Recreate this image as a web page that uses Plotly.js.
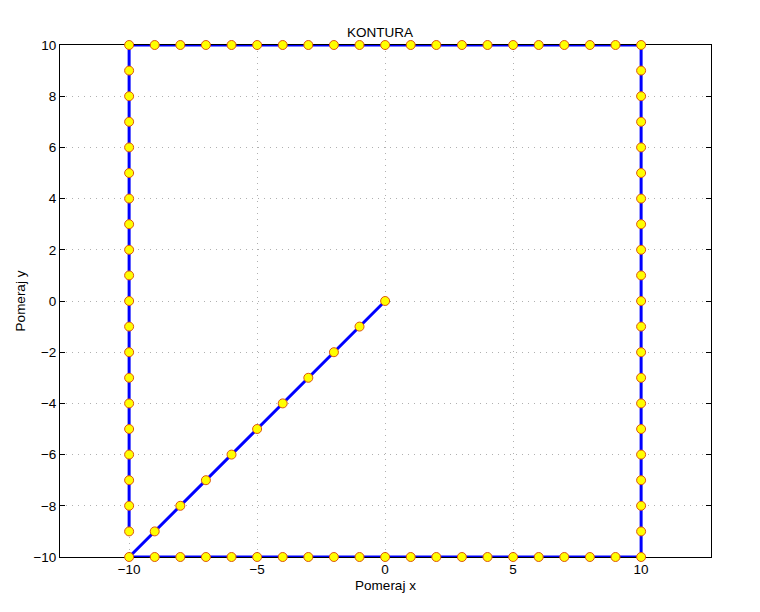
<!DOCTYPE html>
<html>
<head>
<meta charset="utf-8">
<script src="https://cdn.plot.ly/plotly-3.0.1.min.js"></script>
<style>body{margin:0;padding:0;background:#fff;} #chart{width:760px;height:612px;}</style>
</head>
<body>
<div id="chart"></div>
<script>
// Path segments
const diagX = [0, -1, -2, -3, -4, -5, -6, -7, -8, -9, -10];
const diagY = [0, -1, -2, -3, -4, -5, -6, -7, -8, -9, -10];
const bottomX = [-9, -8, -7, -6, -5, -4, -3, -2, -1, 0, 1, 2, 3, 4, 5, 6, 7, 8, 9, 10];
const bottomY = [-10, -10, -10, -10, -10, -10, -10, -10, -10, -10, -10, -10, -10, -10, -10, -10, -10, -10, -10, -10];
const rightX = [10, 10, 10, 10, 10, 10, 10, 10, 10, 10, 10, 10, 10, 10, 10, 10, 10, 10, 10, 10];
const rightY = [-9, -8, -7, -6, -5, -4, -3, -2, -1, 0, 1, 2, 3, 4, 5, 6, 7, 8, 9, 10];
const topX = [9, 8, 7, 6, 5, 4, 3, 2, 1, 0, -1, -2, -3, -4, -5, -6, -7, -8, -9, -10];
const topY = [10, 10, 10, 10, 10, 10, 10, 10, 10, 10, 10, 10, 10, 10, 10, 10, 10, 10, 10, 10];
const leftX = [-10, -10, -10, -10, -10, -10, -10, -10, -10, -10, -10, -10, -10, -10, -10, -10, -10, -10, -10];
const leftY = [9, 8, 7, 6, 5, 4, 3, 2, 1, 0, -1, -2, -3, -4, -5, -6, -7, -8, -9, -10];

const xTicks = [-10, -5, 0, 5, 10];
const yTicks = [-10, -8, -6, -4, -2, 0, 2, 4, 6, 8, 10];

const xs = diagX.concat(bottomX, rightX, topX, leftX);
const ys = diagY.concat(bottomY, rightY, topY, leftY);

const font = {family: 'Liberation Sans, Arial, sans-serif', size: 13.5, color: '#000'};

const trace = {
  x: xs, y: ys, type: 'scatter', mode: 'lines+markers',
  line: {color: '#0000ff', width: 3},
  marker: {color: '#ffff00', size: 9, line: {color: '#dd5510', width: 1}},
  cliponaxis: false,
  hoverinfo: 'none'
};

const axisCommon = {
  showline: true, mirror: 'ticks', linecolor: '#000', linewidth: 1,
  ticks: 'inside', ticklen: 5, tickcolor: '#000',
  showgrid: true, gridcolor: '#b0b0b0', griddash: '1px,5px', gridwidth: 1,
  zeroline: false, tickfont: font, layer: 'below traces'
};

const layout = {
  width: 760, height: 612,
  paper_bgcolor: '#fff', plot_bgcolor: '#fff',
  margin: {l: 60, r: 49, t: 45, b: 55},
  showlegend: false,
  font: font,
  title: {text: 'KONTURA', font: font, x: 0.5, xanchor: 'center', y: 1 - 32/612, yanchor: 'middle'},
  xaxis: Object.assign({}, axisCommon, {
    range: [-12.7, 12.73], tickvals: xTicks, autorange: false,
    title: {text: 'Pomeraj x', font: font, standoff: 4}
  }),
  yaxis: Object.assign({}, axisCommon, {
    range: [-10, 10], tickvals: yTicks, autorange: false,
    title: {text: 'Pomeraj y', font: font, standoff: 4}
  })
};

Plotly.newPlot('chart', [trace], layout, {displayModeBar: false, staticPlot: true});
</script>
</body>
</html>
